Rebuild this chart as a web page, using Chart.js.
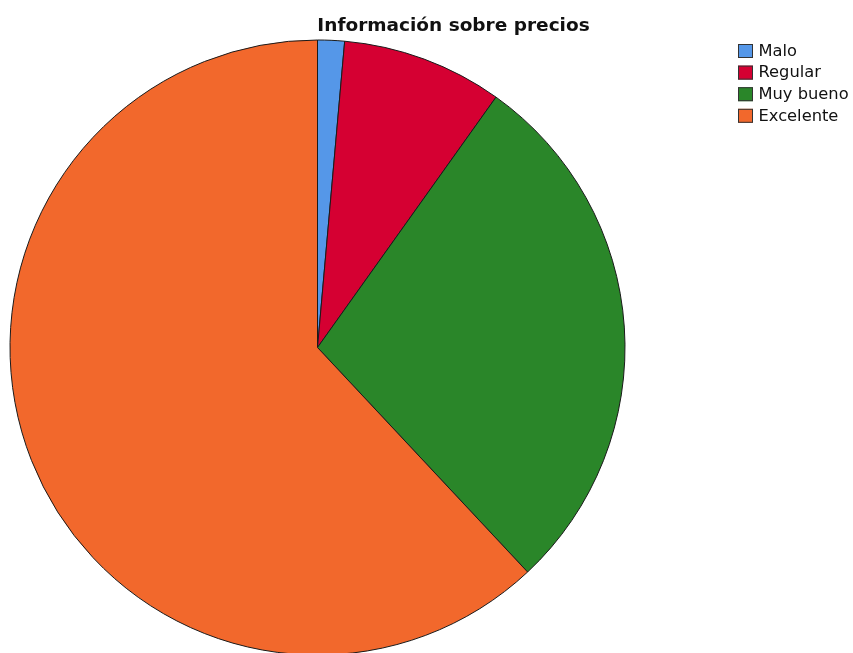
<!DOCTYPE html>
<html>
<head>
<meta charset="utf-8">
<script src="https://cdn.jsdelivr.net/npm/chart.js@4/dist/chart.umd.min.js"></script>
<style>
  html, body { margin: 0; padding: 0; background: #ffffff; }
  #wrap { width: 853px; height: 653px; position: relative; }
</style>
</head>
<body>
<div id="wrap"><canvas id="c" width="853" height="653"></canvas></div>
<script>
// Valoración de la información sobre precios (frecuencias)
const categories = ['Malo', 'Regular', 'Muy bueno', 'Excelente'];
const counts = [1, 6, 20, 44];
const sliceColors = ['#5597E8', '#D50032', '#2A8629', '#F2682C'];
const chartTitle = 'Información sobre precios';

// Title drawn above the pie, centred on its own column
const titlePlugin = {
  id: 'titleText',
  afterDraw(chart) {
    const ctx = chart.ctx;
    ctx.save();
    ctx.font = 'bold 18.5px "DejaVu Sans", sans-serif';
    ctx.fillStyle = '#111111';
    ctx.textAlign = 'center';
    ctx.textBaseline = 'alphabetic';
    ctx.fillText(chartTitle, 453.5, 31);
    ctx.restore();
  }
};

// Legend in the top-right corner: coloured square + label per category
const legendPlugin = {
  id: 'cornerLegend',
  afterDraw(chart) {
    const ctx = chart.ctx;
    const ds = chart.data.datasets[0];
    ctx.save();
    ctx.font = '16.3px "DejaVu Sans", sans-serif';
    ctx.textBaseline = 'middle';
    ctx.textAlign = 'left';
    chart.data.labels.forEach((label, i) => {
      const y = 44 + i * 21.6;
      ctx.fillStyle = ds.backgroundColor[i];
      ctx.fillRect(738, y, 15, 14);
      ctx.strokeStyle = '#333333';
      ctx.lineWidth = 1;
      ctx.strokeRect(738.5, y + 0.5, 14, 13);
      ctx.fillStyle = '#111111';
      ctx.fillText(label, 758.5, y + 7.5);
    });
    ctx.restore();
  }
};

new Chart(document.getElementById('c'), {
  type: 'pie',
  data: {
    labels: categories,
    datasets: [{
      data: counts,
      backgroundColor: sliceColors,
      borderColor: '#1a1a1a',
      borderWidth: 1,
      radius: 307.5
    }]
  },
  options: {
    responsive: false,
    animation: false,
    events: [],
    layout: { padding: { left: 10, right: 228, top: 42, bottom: 0 } },
    plugins: {
      legend: { display: false },
      title: { display: false },
      tooltip: { enabled: false }
    }
  },
  plugins: [titlePlugin, legendPlugin]
});
</script>
</body>
</html>
